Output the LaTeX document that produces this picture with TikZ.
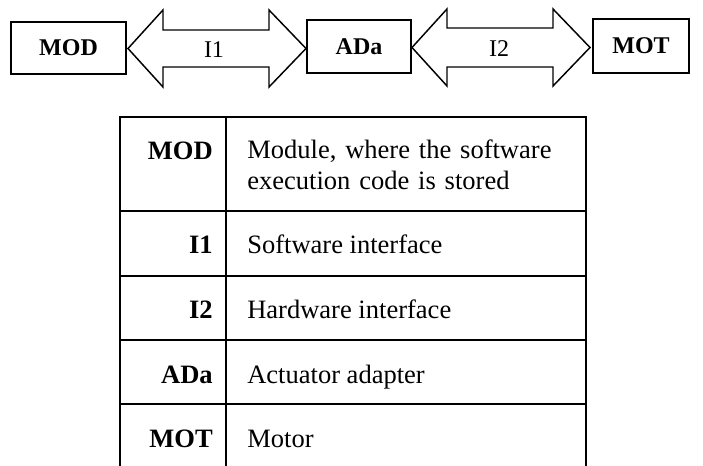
\documentclass[tikz,border=0pt]{standalone}
\usepackage{fontspec}
\setmainfont{Liberation Serif}
\begin{document}
\begin{tikzpicture}[x=0.75pt,y=-0.75pt,
  unitbox/.style={draw, line width=1.4pt, inner sep=0pt,
    font=\fontsize{18}{21}\selectfont\bfseries},
  linkarrow/.style={draw, line width=1.1pt, line join=miter},
  linklabel/.style={font=\fontsize{18}{21}\selectfont, inner sep=0pt},
  rule/.style={line width=1.8pt},
  keytext/.style={anchor=base east, inner sep=0pt,
    font=\fontsize{19.9}{23.25}\selectfont\bfseries},
  desctext/.style={anchor=base west, inner sep=0pt,
    font=\fontsize{19.9}{23.25}\selectfont}]
\path[use as bounding box] (0,0) rectangle (703,466);

% the three units
\node[unitbox, minimum width=86.25pt, minimum height=39pt] (mod) at (68.5,48) {MOD};
\node[unitbox, minimum width=78pt, minimum height=39.75pt] (ada) at (359,46.5) {ADa};
\node[unitbox, minimum width=72pt, minimum height=40.5pt] (mot) at (641,46) {MOT};

% interface I1 between MOD and ADa
\coordinate (i1l) at (128,48.5);
\coordinate (i1r) at (306,48.5);
\draw[linkarrow] (i1l) -- (163,10) -- (163,30) -- (269,30) -- (269,10) -- (i1r)
  -- (269,87) -- (269,67) -- (163,67) -- (163,87) -- cycle;
\node[linklabel] (i1) at (214,50) {I1};

% interface I2 between ADa and MOT
\coordinate (i2l) at (412,47.5);
\coordinate (i2r) at (590,47.5);
\draw[linkarrow] (i2l) -- (447,9) -- (447,28) -- (553,28) -- (553,9) -- (i2r)
  -- (553,86) -- (553,67) -- (447,67) -- (447,86) -- cycle;
\node[linklabel] (i2) at (499,49) {I2};

% legend table
\draw[rule] (120,466) -- (120,117) -- (586,117) -- (586,466);
\draw[rule] (226,117) -- (226,466);
\foreach \yy in {211,276,340,404}
  \draw[rule] (120,\yy) -- (586,\yy);

\node[keytext] (kmod) at (213,160) {MOD};
\node[desctext, text width=241.5pt, align=left] (dmod) at (247,159)
  {\hbox to 241.5pt{Module, where the software}\\execution code is stored};

\node[keytext] (ki1) at (213,254) {I1};
\node[desctext] (di1) at (247,254) {Software interface};

\node[keytext] (ki2) at (213,319) {I2};
\node[desctext] (di2) at (247,319) {Hardware interface};

\node[keytext] (kada) at (213,383) {ADa};
\node[desctext] (dada) at (247,383) {Actuator adapter};

\node[keytext] (kmot) at (213,447) {MOT};
\node[desctext] (dmot) at (247,447) {Motor};
\end{tikzpicture}
\end{document}
